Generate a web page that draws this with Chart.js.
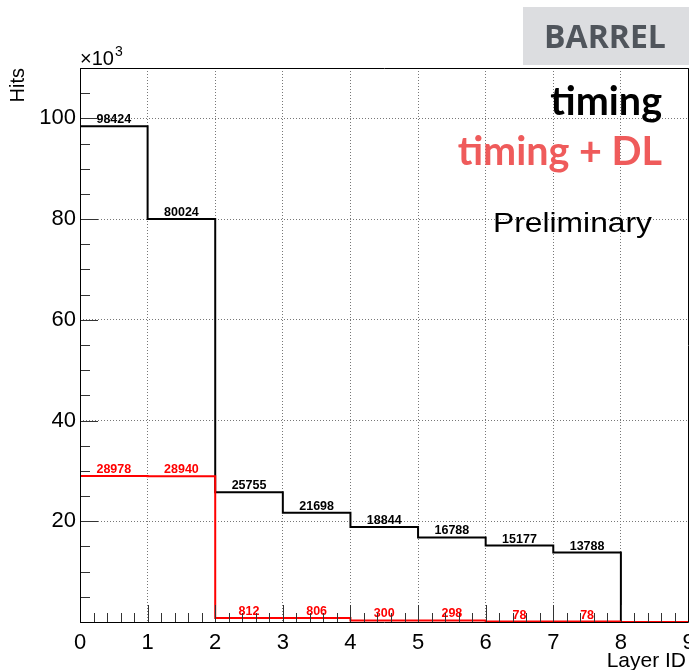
<!DOCTYPE html>
<html>
<head>
<meta charset="utf-8">
<script src="https://cdn.jsdelivr.net/npm/chart.js@4"></script>
<style>
  html, body { margin: 0; padding: 0; background: #fff; }
  canvas { display: block; }
</style>
</head>
<body>
<canvas id="hits" width="689" height="670"></canvas>
<script>
// Bin edges along the layer axis and hit counts per layer bin
const binEdges = [0, 1, 2, 3, 4, 5, 6, 7, 8, 9];
const hitsTiming = [98424, 80024, 25755, 21698, 18844, 16788, 15177, 13788, 0];
const hitsTimingDL = [28978, 28940, 812, 806, 300, 298, 78, 78, 0];
const xTickLabels = ['0', '1', '2', '3', '4', '5', '6', '7', '8', '9'];
const yTickValues = [0, 20000, 40000, 60000, 80000, 100000];
const yTickLabels = ['', '20', '40', '60', '80', '100'];

const SANS = '"Liberation Sans", Arial, Helvetica, sans-serif';

// Turn bin contents into left-edge points for a stepped outline
function histogramSteps(values) {
  const pts = values.map((v, i) => ({ x: binEdges[i], y: v }));
  pts.push({ x: binEdges[values.length], y: values[values.length - 1] });
  return pts;
}

// Text squeezed or stretched horizontally to a given width
function fillTextWidth(ctx, text, x, y, width) {
  const w = ctx.measureText(text).width;
  ctx.save();
  ctx.translate(x, y);
  ctx.scale(width / w, 1);
  ctx.textAlign = 'left';
  ctx.fillText(text, 0, 0);
  ctx.restore();
}

// Frame, ticks and bin-content labels drawn on top of the outlines
const histDecor = {
  id: 'histDecor',
  afterDatasetsDraw(chart) {
    const { ctx, chartArea: a, scales: { x, y } } = chart;
    ctx.save();

    // value labels above each non-empty bin
    ctx.font = 'bold 12.5px ' + SANS;
    ctx.textAlign = 'center';
    ctx.textBaseline = 'alphabetic';
    chart.data.datasets.forEach((ds) => {
      ctx.fillStyle = ds.borderColor;
      ds.binValues.forEach((v, i) => {
        if (v <= 0) return;
        const cx = x.getPixelForValue((binEdges[i] + binEdges[i + 1]) / 2);
        const cy = y.getPixelForValue(v) - 3;
        ctx.fillText(String(v), cx, cy);
      });
    });

    // tick marks pointing into the frame
    ctx.strokeStyle = '#333';
    ctx.lineWidth = 1;
    ctx.beginPath();
    for (let v = 0; v <= 110000; v += 5000) {
      const py = Math.round(y.getPixelForValue(v)) + 0.5;
      const len = v % 20000 === 0 ? 18 : 10;
      ctx.moveTo(a.left, py);
      ctx.lineTo(a.left + len, py);
    }
    for (let k = 0; k <= 45; k++) {
      const px = Math.round(x.getPixelForValue(k * 0.2)) + 0.5;
      const len = k % 5 === 0 ? 17 : 9;
      ctx.moveTo(px, a.bottom);
      ctx.lineTo(px, a.bottom - len);
    }
    ctx.stroke();

    // frame
    ctx.strokeStyle = '#000';
    ctx.beginPath();
    const L = Math.round(a.left) + 0.5, R = Math.round(a.right) - 0.5;
    const T = Math.round(a.top) + 0.5, B = Math.round(a.bottom) + 0.5;
    ctx.moveTo(L, T); ctx.lineTo(R, T); ctx.lineTo(R, B); ctx.lineTo(L, B); ctx.closePath();
    ctx.stroke();

    ctx.restore();
  },
  afterDraw(chart) {
    const { ctx, chartArea: a } = chart;
    ctx.save();
    ctx.textBaseline = 'alphabetic';

    // axis titles
    ctx.fillStyle = '#000';
    ctx.font = '20px ' + SANS;
    ctx.save();
    ctx.translate(18, a.top);
    ctx.rotate(-Math.PI / 2);
    ctx.textAlign = 'right';
    ctx.textBaseline = 'middle';
    ctx.fillText('Hits', 0, 0);
    ctx.restore();

    ctx.font = '21px ' + SANS;
    ctx.textAlign = 'right';
    ctx.fillText('Layer ID', 686, 667);

    // axis multiplier
    ctx.textAlign = 'left';
    ctx.font = '20px ' + SANS;
    ctx.fillText('\u00d710', a.left, 65);
    const w = ctx.measureText('\u00d710').width;
    ctx.font = '14px ' + SANS;
    ctx.fillText('3', a.left + w + 1, 56);

    // region tag
    ctx.fillStyle = '#dcdde0';
    ctx.fillRect(523, 7, 166, 58);
    ctx.fillStyle = '#50555c';
    ctx.font = 'bold 32px "Open Sans", "Noto Sans", sans-serif';
    ctx.textAlign = 'center';
    ctx.fillText('BARREL', 605, 48);

    // series captions
    ctx.textAlign = 'right';
    ctx.font = 'bold 39.5px Lato, "Open Sans", sans-serif';
    ctx.fillStyle = '#000';
    ctx.fillText('timing', 662, 115);
    ctx.fillStyle = '#ef5b5b';
    ctx.fillText('timing + DL', 662, 165);

    ctx.fillStyle = '#000';
    ctx.font = '28.5px ' + SANS;
    fillTextWidth(ctx, 'Preliminary', 493, 232, 159);

    ctx.restore();
  }
};

new Chart(document.getElementById('hits'), {
  type: 'line',
  data: {
    datasets: [
      {
        label: 'timing + DL',
        data: histogramSteps(hitsTimingDL),
        binValues: hitsTimingDL,
        borderColor: '#ff0000',
        borderWidth: 2,
        stepped: true,
        pointRadius: 0,
        fill: false
      },
      {
        label: 'timing',
        data: histogramSteps(hitsTiming),
        binValues: hitsTiming,
        borderColor: '#000000',
        borderWidth: 2,
        stepped: true,
        pointRadius: 0,
        fill: false
      }
    ]
  },
  options: {
    responsive: false,
    animation: false,
    devicePixelRatio: 1,
    layout: { padding: { top: 68, right: 0.5, left: 0, bottom: 0 } },
    plugins: { legend: { display: false }, tooltip: { enabled: false }, title: { display: false } },
    scales: {
      x: {
        type: 'linear',
        min: 0,
        max: 9,
        grid: { color: '#777', lineWidth: 1, drawTicks: false },
        border: { display: false, dash: [1, 2] },
        ticks: {
          autoSkip: false,
          maxRotation: 0,
          padding: 8,
          color: '#000',
          font: { family: SANS, size: 22 },
          callback: (v) => xTickLabels[binEdges.indexOf(v)] ?? ''
        },
        afterBuildTicks: (s) => { s.ticks = binEdges.map((v) => ({ value: v })); },
        afterFit: (s) => { s.height = 48; s.paddingLeft = 0; s.paddingRight = 0; }
      },
      y: {
        type: 'linear',
        min: 0,
        max: 110000,
        grid: { color: '#777', lineWidth: 1, drawTicks: false },
        border: { display: false, dash: [1, 2] },
        ticks: {
          autoSkip: false,
          padding: 4,
          color: '#000',
          font: { family: SANS, size: 22 },
          callback: (v) => {
            const i = yTickValues.indexOf(v);
            return i >= 0 ? yTickLabels[i] : '';
          }
        },
        afterBuildTicks: (s) => { s.ticks = yTickValues.map((v) => ({ value: v })); },
        afterFit: (s) => { s.width = 80; s.paddingTop = 0; s.paddingBottom = 0; }
      }
    }
  },
  plugins: [histDecor]
});
</script>
</body>
</html>
